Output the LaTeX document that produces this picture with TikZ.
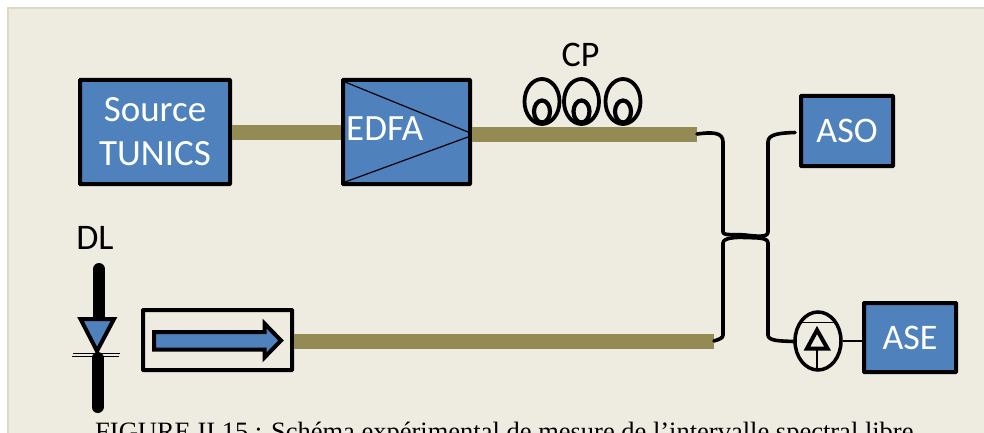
\documentclass[tikz,border=0pt]{standalone}
\usepackage{fontspec}
\setmainfont{Carlito}
\newfontfamily\capfont{Liberation Serif}
\usetikzlibrary{shapes.geometric}
\definecolor{paper}{HTML}{EEECE1}
\definecolor{edge}{HTML}{DDD9C3}
\definecolor{boxblue}{HTML}{4F81BD}
\definecolor{fibre}{HTML}{948A54}
\tikzset{
  x=1pt,y=-1pt,
  bluebox/.style={draw=black,line width=4pt,fill=boxblue,rounded corners=0.5pt,inner sep=0pt,text=white,font=\fontsize{36}{45}\selectfont,align=center,anchor=north west},
  fibreline/.style={draw=fibre,line width=15pt,line cap=butt},
  blackfibre/.style={draw=black,line width=3.6pt,line cap=round,line join=round},
  thinline/.style={draw=black,line width=1.2pt},
  loopo/.style={draw=black,line width=3.8pt,ellipse,inner sep=0pt,minimum width=35pt,minimum height=45pt},
  loopi/.style={draw=black,line width=4.2pt,ellipse,inner sep=0pt,minimum width=16pt,minimum height=22pt},
  lbl/.style={text=black,font=\fontsize{36}{44}\selectfont,inner sep=0pt},
  barline/.style={draw=black,line width=12pt,line cap=round}
}
\begin{document}
\begin{tikzpicture}
\useasboundingbox (0,0) rectangle (984,433);
\fill[white] (0,0) rectangle (984,433);
\fill[paper] (8,8) rectangle (984,433);
\draw[edge,line width=2pt] (8,433) -- (8,8) -- (984,8);
\begin{scope}
\clip (0,0) rectangle (984,433);
\node[inner sep=0pt,anchor=base west,font=\capfont\fontsize{26.5}{30}\selectfont,text=black] (cap) at (95,440) {FIGURE II.15 : Schéma expérimental de mesure de l’intervalle spectral libre};
\end{scope}
% boxes
\node[bluebox,minimum width=150pt,minimum height=104pt,font=\fontsize{37}{44}\selectfont] (src) at (78,78) {Source\\TUNICS};
\node[bluebox,minimum width=127pt,minimum height=104pt] (edfa) at (341,78) {};
\node[bluebox,minimum width=92pt,minimum height=70pt] (aso) at (799,94) {ASO};
\node[bluebox,minimum width=92pt,minimum height=69pt] (ase) at (862,301) {ASE};
\node[draw=black,line width=4pt,rounded corners=0.5pt,inner sep=0pt,minimum width=149pt,minimum height=60pt,anchor=north west] (iso) at (141,308) {};
% fibres
\coordinate (f1end) at (697,134);
\coordinate (f2end) at (714,341);
\draw[fibreline] (src.east) -- (edfa.west);
\draw[fibreline] (edfa.east |- f1end) -- (f1end);
\draw[fibreline] (iso.east |- f2end) -- (f2end);
% EDFA detail
\node[inner sep=0pt,text=white,font=\fontsize{37}{44}\selectfont,anchor=base west] (edfat) at (346,140.5) {EDFA};
\draw[thinline] (345,82) -- (468,132);
\draw[thinline] (345,182) -- (468,137);
% CP
\node[lbl,anchor=base] (cp) at (580.5,67) {CP};
\foreach \cx/\n in {542/a,581.5/b,623/c}{
  \node[loopo] (lo\n) at (\cx,101.5) {};
  \node[loopi] (li\n) at (\cx,111.5) {};
}
% coupler
\coordinate (cplUL) at (723,232);
\coordinate (cplUR) at (768,232);
\coordinate (cplLL) at (723,243);
\coordinate (cplLR) at (768,243);
\draw[blackfibre] (f1end) .. controls (712,132) and (723,132) .. (723,142) -- (cplUL)
  .. controls (723,236) and (735,234) .. (745,235) .. controls (755,236) and (768,238) .. (cplUR)
  -- (768,142) .. controls (768,134) and (780,133) .. (795,132.5);
\draw[blackfibre] (f2end) .. controls (720,339) and (723,338) .. (723,335) -- (cplLL)
  .. controls (723,238) and (735,237) .. (745,237.5) .. controls (755,238) and (768,237) .. (cplLR)
  -- (768,335) .. controls (768,341) and (780,341) .. (794,341.5);
% detector
\node[draw=black,line width=3.5pt,ellipse,inner sep=0pt,minimum width=46pt,minimum height=58pt] (det) at (818,341) {};
\draw[thinline] (800,322.7) -- (835,322.7);
\draw[black,line width=4pt,line join=miter] (817,330) -- (807,348.5) -- (827.5,348.5) -- cycle;
\draw[thinline] (817,350) -- (817,368);
\draw[thinline] (det.east) -- (det.east -| ase.west);
% DL
\node[lbl,anchor=base] (dl) at (95,249) {DL};
\coordinate (dlA) at (99,269);
\coordinate (dlB) at (99,317);
\coordinate (dlC) at (97.5,358);
\coordinate (dlD) at (97.5,407);
\draw[barline] (dlA) -- (dlB);
\draw[barline] (dlC) -- (dlD);
\draw[black,line width=4pt,fill=boxblue,line join=miter] (80.5,319) -- (114,319) -- (97,351) -- cycle;
\draw[draw=black,line width=1pt] (73,353.7) -- (120,353.7);
\draw[draw=black,line width=1pt] (72,356.7) -- (119,356.7);
% isolator arrow
\draw[black,line width=4pt,fill=boxblue,line join=miter]
  (154,332) -- (264.5,332) -- (264.5,323.5) -- (281,340.5) -- (264.5,357.5) -- (264.5,349.5) -- (154,349.5) -- cycle;
\end{tikzpicture}
\end{document}
